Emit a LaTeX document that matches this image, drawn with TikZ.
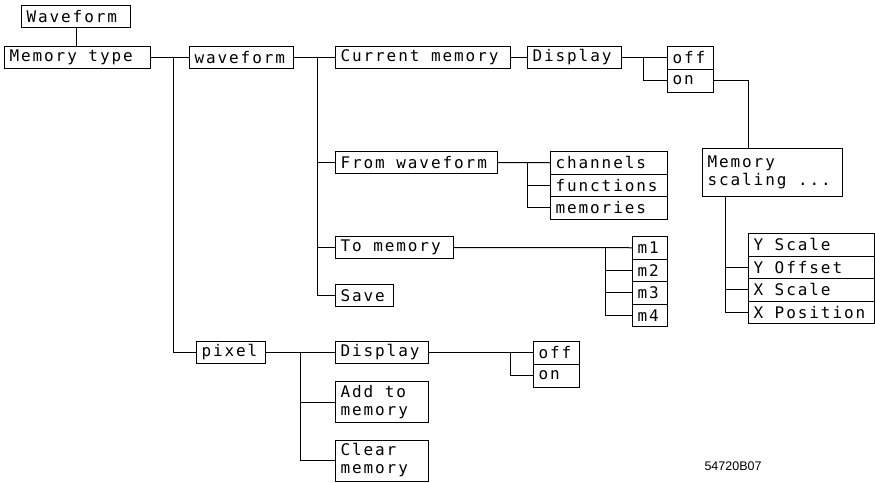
\documentclass[tikz,border=0pt]{standalone}
\usepackage{fontspec}
\newfontfamily\hpfont{DejaVu Sans Mono}[LetterSpace=12]
\newfontfamily\lblfont{Liberation Sans}
\newcommand\hsp{\hspace*{11.6pt}}
\begin{document}
\begin{tikzpicture}[x=1pt,y=-1pt,line width=1pt,
  bx/.style={draw, anchor=north west, inner xsep=5pt, inner ysep=0pt, align=left,
    font=\hpfont\fontsize{16}{18}\selectfont}]
\useasboundingbox (0,0) rectangle (875,482);
% top level
\node[bx, text width=99pt, minimum height=22pt] (wf0) at (21,5) {Waveform};
\node[bx, text width=136pt, minimum height=22pt] (mt) at (4,46) {Memory\hsp type};
\node[bx, text width=94pt, minimum height=22pt] (wv) at (189,46) {waveform};
\node[bx, text width=165pt, minimum height=22pt] (cm) at (335,46) {Current\hsp memory};
\node[bx, text width=84pt, minimum height=22pt] (d1) at (527,46) {Display};
\node[bx, text width=36pt, minimum height=23pt] (off1) at (667,45.5) {off};
\node[bx, text width=36pt, minimum height=23pt] (on1) at (667,68.5) {on};
\node[bx, text width=130pt, minimum height=48pt] (ms) at (702,148) {Memory\\scaling\hsp...};
\node[bx, text width=116pt, minimum height=22.5pt] (ys) at (748,233) {Y\hsp Scale};
\node[bx, text width=116pt, minimum height=22.5pt] (yo) at (748,255.5) {Y\hsp Offset};
\node[bx, text width=116pt, minimum height=22.5pt] (xs) at (748,278) {X\hsp Scale};
\node[bx, text width=116pt, minimum height=22.5pt] (xp) at (748,300.5) {X\hsp Position};
% waveform branch
\node[bx, text width=152pt, minimum height=22pt] (fw) at (335,151) {From\hsp waveform};
\node[bx, text width=107pt, minimum height=22.5pt] (ch) at (550,151) {channels};
\node[bx, text width=107pt, minimum height=22.5pt] (fn) at (550,173.5) {functions};
\node[bx, text width=107pt, minimum height=22.5pt] (me) at (550,196) {memories};
\node[bx, text width=108pt, minimum height=22pt] (tm) at (335,236) {To\hsp memory};
\node[bx, text width=25pt, minimum height=22.5pt] (m1) at (632,236) {m1};
\node[bx, text width=25pt, minimum height=22.5pt] (m2) at (632,258.5) {m2};
\node[bx, text width=25pt, minimum height=22.5pt] (m3) at (632,281) {m3};
\node[bx, text width=25pt, minimum height=22.5pt] (m4) at (632,303.5) {m4};
\node[bx, text width=48pt, minimum height=22pt] (sv) at (335,284) {Save};
% pixel branch
\node[bx, text width=59pt, minimum height=22pt] (px) at (196,341) {pixel};
\node[bx, text width=83pt, minimum height=22pt] (d2) at (335,341) {Display};
\node[bx, text width=83pt, minimum height=41pt] (atm) at (335,381) {Add\hsp to\\memory};
\node[bx, text width=83pt, minimum height=41pt] (clm) at (335,439.5) {Clear\\memory};
\node[bx, text width=36pt, minimum height=23pt] (off2) at (533,340.5) {off};
\node[bx, text width=36pt, minimum height=23pt] (on2) at (533,363.5) {on};
\node[anchor=west, inner sep=0pt, font=\lblfont\fontsize{12.5}{14}\selectfont] (code) at (704,466) {54720B07};
% junction coordinates
\coordinate (jmt) at (173,57);
\coordinate (jwv) at (317,57);
\coordinate (jd1) at (643,57);
\coordinate (msin) at (748,148);
\coordinate (jms) at (725,196);
\coordinate (jfw) at (527,162);
\coordinate (jtm) at (605,247);
\coordinate (jpx) at (300,352);
\coordinate (jd2) at (510,352);
% connectors
\draw (wf0.south) -- (wf0.south |- mt.north);
\draw (mt.east) -- (wv.west);
\draw (jmt) |- (px.west);
\draw (wv.east) -- (cm.west);
\draw (jwv) |- (sv.west);
\draw (jwv |- fw.west) -- (fw.west);
\draw (jwv |- tm.west) -- (tm.west);
\draw (cm.east) -- (d1.west);
\draw (d1.east) -- (off1.west);
\draw (jd1) |- (on1.west);
\draw (on1.east) -| (msin);
\draw (jms) |- (xp.west);
\draw (jms |- yo.west) -- (yo.west);
\draw (jms |- xs.west) -- (xs.west);
\draw (fw.east) -- (ch.west);
\draw (jfw) |- (me.west);
\draw (jfw |- fn.west) -- (fn.west);
\draw (tm.east) -- (m1.west);
\draw (jtm) |- (m4.west);
\draw (jtm |- m2.west) -- (m2.west);
\draw (jtm |- m3.west) -- (m3.west);
\draw (px.east) -- (d2.west);
\draw (jpx) |- (clm.west);
\draw (jpx |- atm.west) -- (atm.west);
\draw (d2.east) -- (off2.west);
\draw (jd2) |- (on2.west);
\end{tikzpicture}
\end{document}
